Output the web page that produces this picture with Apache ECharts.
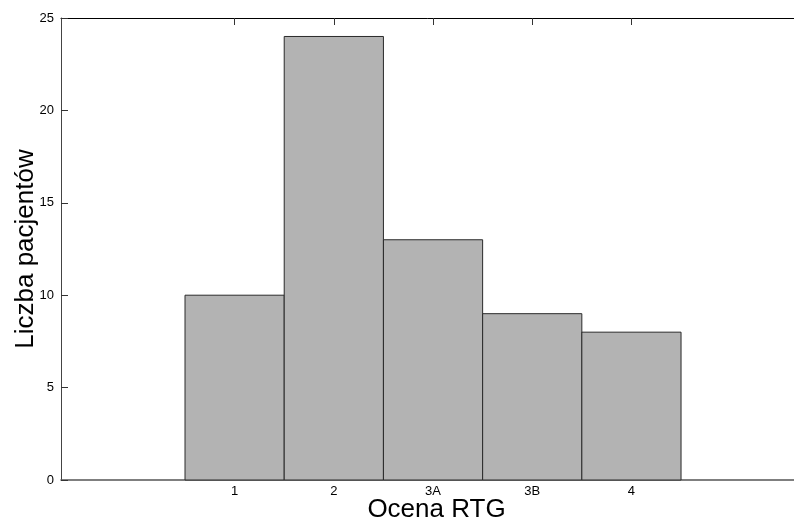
<!DOCTYPE html>
<html>
<head>
<meta charset="utf-8">
<script src="https://cdn.jsdelivr.net/npm/echarts@6/dist/echarts.min.js"></script>
<style>
  html, body { margin: 0; padding: 0; background: #fff; overflow: hidden; }
  #chart { width: 794px; height: 520px; }
</style>
</head>
<body>
<div id="chart"></div>
<script>
// RTG grade categories and patient counts
const categories = ['1', '2', '3A', '3B', '4'];
const patientCounts = [10, 24, 13, 9, 8];
const positions = [1, 2, 3, 4, 5];
const yTicks = [0, 5, 10, 15, 20, 25];

const FONT = 'Liberation Sans, Arial, sans-serif';
const chart = echarts.init(document.getElementById('chart'));

const barData = positions.map((p, i) => [p, patientCounts[i]]);

// the axes run a little past the right edge of the canvas
const X_MIN = -0.75;
const X_MAX = 6.82;

chart.setOption({
  animation: false,
  backgroundColor: '#fff',
  grid: { left: 61, top: 18, right: -18, bottom: 40, outerBoundsMode: 'none', containLabel: false },
  xAxis: [
    {
      type: 'value',
      min: X_MIN,
      max: X_MAX,
      position: 'bottom',
      name: 'Ocena RTG',
      nameLocation: 'middle',
      nameGap: 17,
      nameMoveOverlap: false,
      nameTextStyle: { fontFamily: FONT, fontSize: 26, color: '#000' },
      axisLine: { show: true, onZero: false, lineStyle: { color: '#555', width: 1.5 } },
      axisTick: { show: true, inside: true, length: 6, customValues: positions, lineStyle: { color: '#333' } },
      axisLabel: {
        customValues: positions,
        margin: 5,
        fontFamily: FONT, fontSize: 13, color: '#000',
        formatter: v => categories[positions.indexOf(v)] ?? ''
      },
      splitLine: { show: false }
    },
    {
      type: 'value',
      min: X_MIN,
      max: X_MAX,
      position: 'top',
      axisLine: { show: true, onZero: false, lineStyle: { color: '#000', width: 1 } },
      axisTick: { show: true, inside: true, length: 7, customValues: positions, lineStyle: { color: '#333' } },
      axisLabel: { show: false },
      splitLine: { show: false }
    }
  ],
  yAxis: {
    type: 'value',
    min: 0,
    max: 25,
    interval: 5,
    name: 'Liczba pacjentów',
    nameLocation: 'middle',
    nameGap: 22,
    nameMoveOverlap: false,
    nameTextStyle: { fontFamily: FONT, fontSize: 26, color: '#000' },
    axisLine: { show: true, onZero: false, lineStyle: { color: '#444', width: 1 } },
    axisTick: { show: true, inside: true, length: 7, lineStyle: { color: '#333' } },
    axisLabel: {
      margin: 7,
      fontFamily: FONT, fontSize: 13, color: '#000',
      formatter: v => (yTicks.includes(v) ? String(v) : '')
    },
    splitLine: { show: false }
  },
  series: [{
    type: 'custom',
    xAxisIndex: 0,
    data: barData,
    renderItem: (params, api) => {
      const x = api.value(0);
      const y = api.value(1);
      const p0 = api.coord([x - 0.5, y]);
      const p1 = api.coord([x + 0.5, 0]);
      return {
        type: 'rect',
        shape: { x: p0[0], y: p0[1], width: p1[0] - p0[0], height: p1[1] - p0[1] },
        style: { fill: '#b3b3b3', stroke: '#2a2a2a', lineWidth: 1 }
      };
    },
    encode: { x: 0, y: 1 }
  }]
});
</script>
</body>
</html>
